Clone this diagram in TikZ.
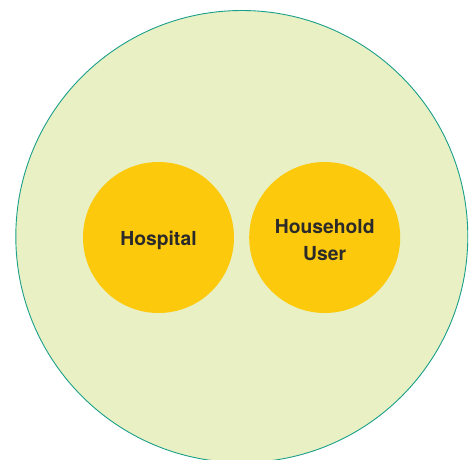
\documentclass[tikz,border=0pt]{standalone}
\usepackage{fontspec}
\setsansfont{TeX Gyre Heros}
\definecolor{areafill}{HTML}{E8F0C4}
\definecolor{arealine}{HTML}{1AA08A}
\definecolor{unitfill}{HTML}{FDC90C}
\definecolor{labeltext}{HTML}{2A2A2A}
\begin{document}
\begin{tikzpicture}[x=1pt, y=-1pt, line join=round, line cap=round,
		unit/.style={circle, fill=unitfill, minimum size=151pt, inner sep=0pt},
		unitlabel/.style={align=center, text=labeltext, inner sep=0pt, yshift=-2.5pt,
			font=\sffamily\bfseries\fontsize{19.3}{26.3}\selectfont}]
			\def\R{452} \def\r{151}% Durchmesser
			\useasboundingbox (0,0) rectangle (475,460);
			\node[circle, fill=areafill, draw=arealine, line width=0.9pt, minimum size=\R pt, inner sep=0pt] (area) at (241.8,236.5) {};
			\node[unit] (hospital) at (158.5,237.5) {};
			\node[unit] (household) at (324.7,237.5) {};
			\node[unitlabel] (hospitaltext) at (hospital) {Hospital};
			\node[unitlabel] (householdtext) at (household) {Household\\User};
		\end{tikzpicture}
\end{document}
